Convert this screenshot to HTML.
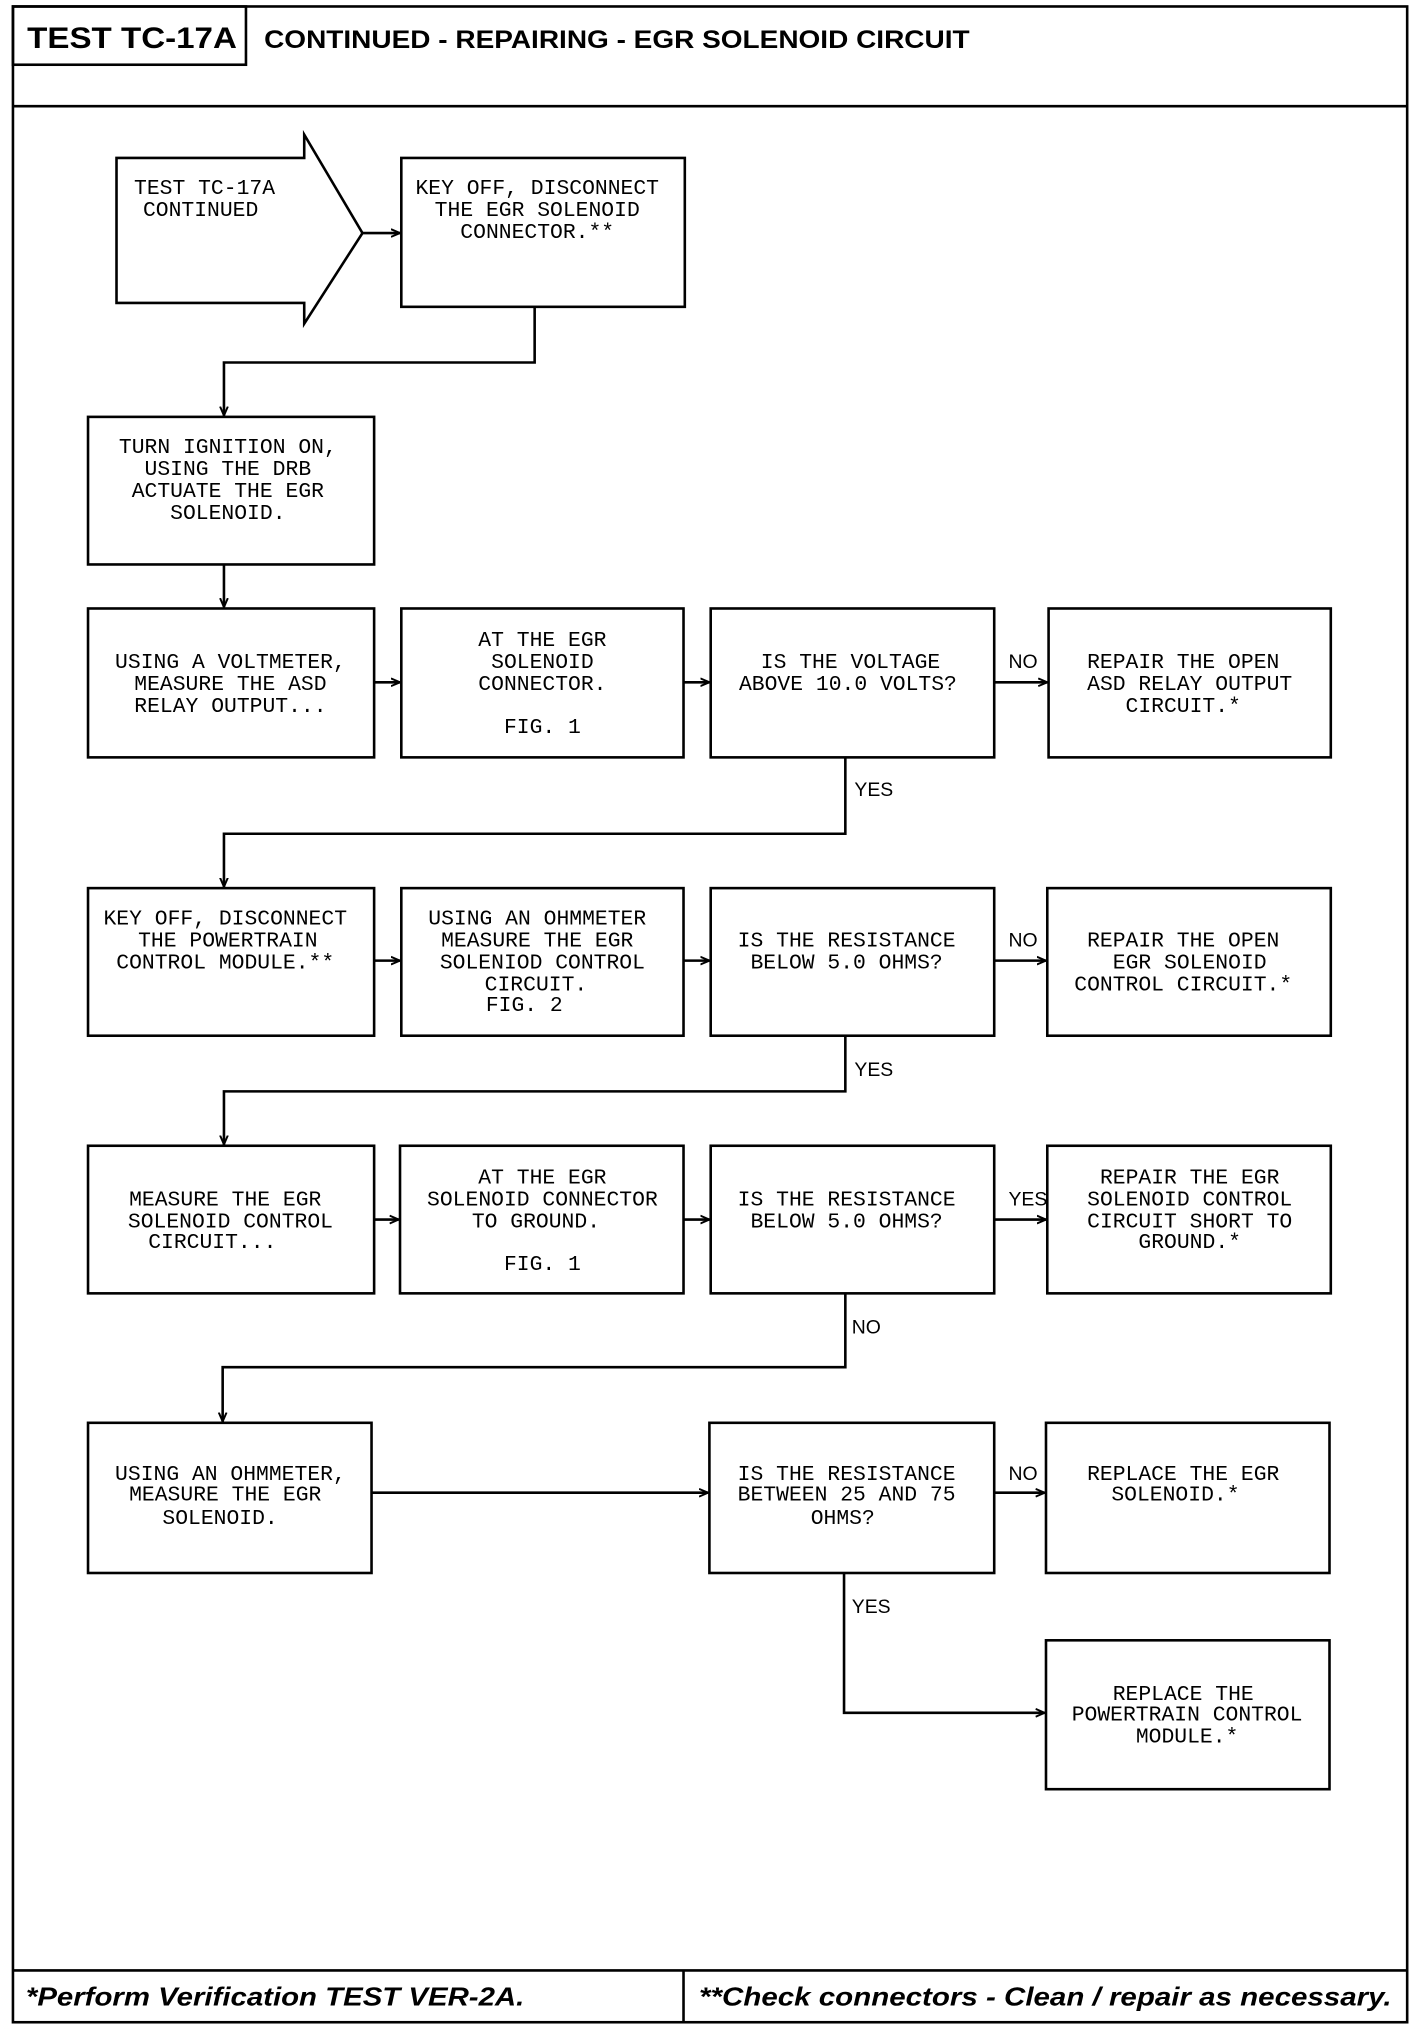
<!DOCTYPE html>
<html><head><meta charset="utf-8"><style>
html,body{margin:0;padding:0;background:#fff;}
svg{display:block;}
.b{fill:#fff;stroke:#000;stroke-width:2;}
.l{fill:none;stroke:#000;stroke-width:2;}
.t{font-family:"Liberation Mono",monospace;font-size:16.5px;text-anchor:middle;fill:#000;}
.lb{font-family:"Liberation Sans",sans-serif;font-size:15px;fill:#000;}
</style></head><body>
<svg width="1424" height="2030" viewBox="0 0 1100 1568" preserveAspectRatio="none" xmlns="http://www.w3.org/2000/svg">
<defs><marker id="a" markerWidth="8" markerHeight="8" refX="7" refY="4" orient="auto" markerUnits="userSpaceOnUse"><path d="M0,1 L7,4 L0,7" fill="none" stroke="#000" stroke-width="1.5"/></marker></defs>
<rect x="10" y="5" width="1077" height="1557" class="l"/>
<line x1="10" y1="82" x2="1087" y2="82" class="l"/>
<rect x="10" y="5" width="180" height="45" class="l"/>
<text x="21" y="37" font-family="Liberation Sans,sans-serif" font-weight="bold" font-size="23" textLength="162" lengthAdjust="spacingAndGlyphs">TEST TC-17A</text>
<text x="204" y="37" font-family="Liberation Sans,sans-serif" font-weight="bold" font-size="19" textLength="545" lengthAdjust="spacingAndGlyphs">CONTINUED - REPAIRING - EGR SOLENOID CIRCUIT</text>
<line x1="10" y1="1522" x2="1087" y2="1522" class="l"/>
<line x1="528" y1="1522" x2="528" y2="1562" class="l"/>
<text x="20" y="1549" font-family="Liberation Sans,sans-serif" font-weight="bold" font-style="italic" font-size="20" textLength="385" lengthAdjust="spacingAndGlyphs">*Perform Verification TEST VER-2A.</text>
<text x="540" y="1549" font-family="Liberation Sans,sans-serif" font-weight="bold" font-style="italic" font-size="20" textLength="535" lengthAdjust="spacingAndGlyphs">**Check connectors - Clean / repair as necessary.</text>

<path d="M90,122 L235,122 L235,104 L280,180 L235,250 L235,234 L90,234 Z" class="b"/>
<text class="t" x="158" y="150">TEST TC-17A</text><text class="t" x="155" y="167">CONTINUED</text>
<line x1="280" y1="180" x2="309" y2="180" class="l" marker-end="url(#a)"/>
<rect x="310" y="122" width="219" height="115" class="b"/>
<text class="t" x="415" y="150">KEY OFF, DISCONNECT</text><text class="t" x="415" y="167">THE EGR SOLENOID</text><text class="t" x="415" y="184">CONNECTOR.**</text>
<path d="M413,237 V280 H173 V321" class="l" marker-end="url(#a)"/>
<rect x="68" y="322" width="221" height="114" class="b"/>
<text class="t" x="176" y="350">TURN IGNITION ON,</text><text class="t" x="176" y="367">USING THE DRB</text><text class="t" x="176" y="384">ACTUATE THE EGR</text><text class="t" x="176" y="401">SOLENOID.</text>
<line x1="173" y1="436" x2="173" y2="469" class="l" marker-end="url(#a)"/>

<rect x="68" y="470" width="221" height="115" class="b"/>
<text class="t" x="178" y="516">USING A VOLTMETER,</text><text class="t" x="178" y="533">MEASURE THE ASD</text><text class="t" x="178" y="550">RELAY OUTPUT...</text>
<line x1="289" y1="527" x2="309" y2="527" class="l" marker-end="url(#a)"/>
<rect x="310" y="470" width="218" height="115" class="b"/>
<text class="t" x="419" y="499">AT THE EGR</text><text class="t" x="419" y="516">SOLENOID</text><text class="t" x="419" y="533">CONNECTOR.</text><text class="t" x="419" y="566">FIG. 1</text>
<line x1="528" y1="527" x2="548" y2="527" class="l" marker-end="url(#a)"/>
<rect x="549" y="470" width="219" height="115" class="b"/>
<text class="t" x="657" y="516">IS THE VOLTAGE</text><text class="t" x="655" y="533">ABOVE 10.0 VOLTS?</text>
<line x1="768" y1="527" x2="809" y2="527" class="l" marker-end="url(#a)"/>
<text class="lb" x="779" y="516">NO</text>
<rect x="810" y="470" width="218" height="115" class="b"/>
<text class="t" x="914" y="516">REPAIR THE OPEN</text><text class="t" x="919" y="533">ASD RELAY OUTPUT</text><text class="t" x="914" y="550">CIRCUIT.*</text>
<path d="M653,585 V644 H173 V685" class="l" marker-end="url(#a)"/>
<text class="lb" x="660" y="615">YES</text>

<rect x="68" y="686" width="221" height="114" class="b"/>
<text class="t" x="174" y="714">KEY OFF, DISCONNECT</text><text class="t" x="176" y="731">THE POWERTRAIN</text><text class="t" x="174" y="748">CONTROL MODULE.**</text>
<line x1="289" y1="742" x2="309" y2="742" class="l" marker-end="url(#a)"/>
<rect x="310" y="686" width="218" height="114" class="b"/>
<text class="t" x="415" y="714">USING AN OHMMETER</text><text class="t" x="415" y="731">MEASURE THE EGR</text><text class="t" x="419" y="748">SOLENIOD CONTROL</text><text class="t" x="414" y="765">CIRCUIT.</text><text class="t" x="405" y="781">FIG. 2</text>
<line x1="528" y1="742" x2="548" y2="742" class="l" marker-end="url(#a)"/>
<rect x="549" y="686" width="219" height="114" class="b"/>
<text class="t" x="654" y="731">IS THE RESISTANCE</text><text class="t" x="654" y="748">BELOW 5.0 OHMS?</text>
<line x1="768" y1="742" x2="808" y2="742" class="l" marker-end="url(#a)"/>
<text class="lb" x="779" y="731">NO</text>
<rect x="809" y="686" width="219" height="114" class="b"/>
<text class="t" x="914" y="731">REPAIR THE OPEN</text><text class="t" x="919" y="748">EGR SOLENOID</text><text class="t" x="914" y="765">CONTROL CIRCUIT.*</text>
<path d="M653,800 V843 H173 V884" class="l" marker-end="url(#a)"/>
<text class="lb" x="660" y="831">YES</text>

<rect x="68" y="885" width="221" height="114" class="b"/>
<text class="t" x="174" y="931">MEASURE THE EGR</text><text class="t" x="178" y="948">SOLENOID CONTROL</text><text class="t" x="164" y="964">CIRCUIT...</text>
<line x1="289" y1="942" x2="308" y2="942" class="l" marker-end="url(#a)"/>
<rect x="309" y="885" width="219" height="114" class="b"/>
<text class="t" x="419" y="914">AT THE EGR</text><text class="t" x="419" y="931">SOLENOID CONNECTOR</text><text class="t" x="414" y="948">TO GROUND.</text><text class="t" x="419" y="981">FIG. 1</text>
<line x1="528" y1="942" x2="548" y2="942" class="l" marker-end="url(#a)"/>
<rect x="549" y="885" width="219" height="114" class="b"/>
<text class="t" x="654" y="931">IS THE RESISTANCE</text><text class="t" x="654" y="948">BELOW 5.0 OHMS?</text>
<line x1="768" y1="942" x2="808" y2="942" class="l" marker-end="url(#a)"/>
<text class="lb" x="779" y="931">YES</text>
<rect x="809" y="885" width="219" height="114" class="b"/>
<text class="t" x="919" y="914">REPAIR THE EGR</text><text class="t" x="919" y="931">SOLENOID CONTROL</text><text class="t" x="919" y="948">CIRCUIT SHORT TO</text><text class="t" x="919" y="964">GROUND.*</text>
<path d="M653,999 V1056 H172 V1098" class="l" marker-end="url(#a)"/>
<text class="lb" x="658" y="1030">NO</text>

<rect x="68" y="1099" width="219" height="116" class="b"/>
<text class="t" x="178" y="1143">USING AN OHMMETER,</text><text class="t" x="174" y="1159">MEASURE THE EGR</text><text class="t" x="170" y="1177">SOLENOID.</text>
<line x1="287" y1="1153" x2="547" y2="1153" class="l" marker-end="url(#a)"/>
<rect x="548" y="1099" width="220" height="116" class="b"/>
<text class="t" x="654" y="1143">IS THE RESISTANCE</text><text class="t" x="654" y="1159">BETWEEN 25 AND 75</text><text class="t" x="651" y="1177">OHMS?</text>
<line x1="768" y1="1153" x2="807" y2="1153" class="l" marker-end="url(#a)"/>
<text class="lb" x="779" y="1143">NO</text>
<rect x="808" y="1099" width="219" height="116" class="b"/>
<text class="t" x="914" y="1143">REPLACE THE EGR</text><text class="t" x="908" y="1159">SOLENOID.*</text>
<path d="M652,1215 V1323 H807" class="l" marker-end="url(#a)"/>
<text class="lb" x="658" y="1246">YES</text>
<rect x="808" y="1267" width="219" height="115" class="b"/>
<text class="t" x="914" y="1313">REPLACE THE</text><text class="t" x="917" y="1329">POWERTRAIN CONTROL</text><text class="t" x="917" y="1346">MODULE.*</text>
</svg>
</body></html>
